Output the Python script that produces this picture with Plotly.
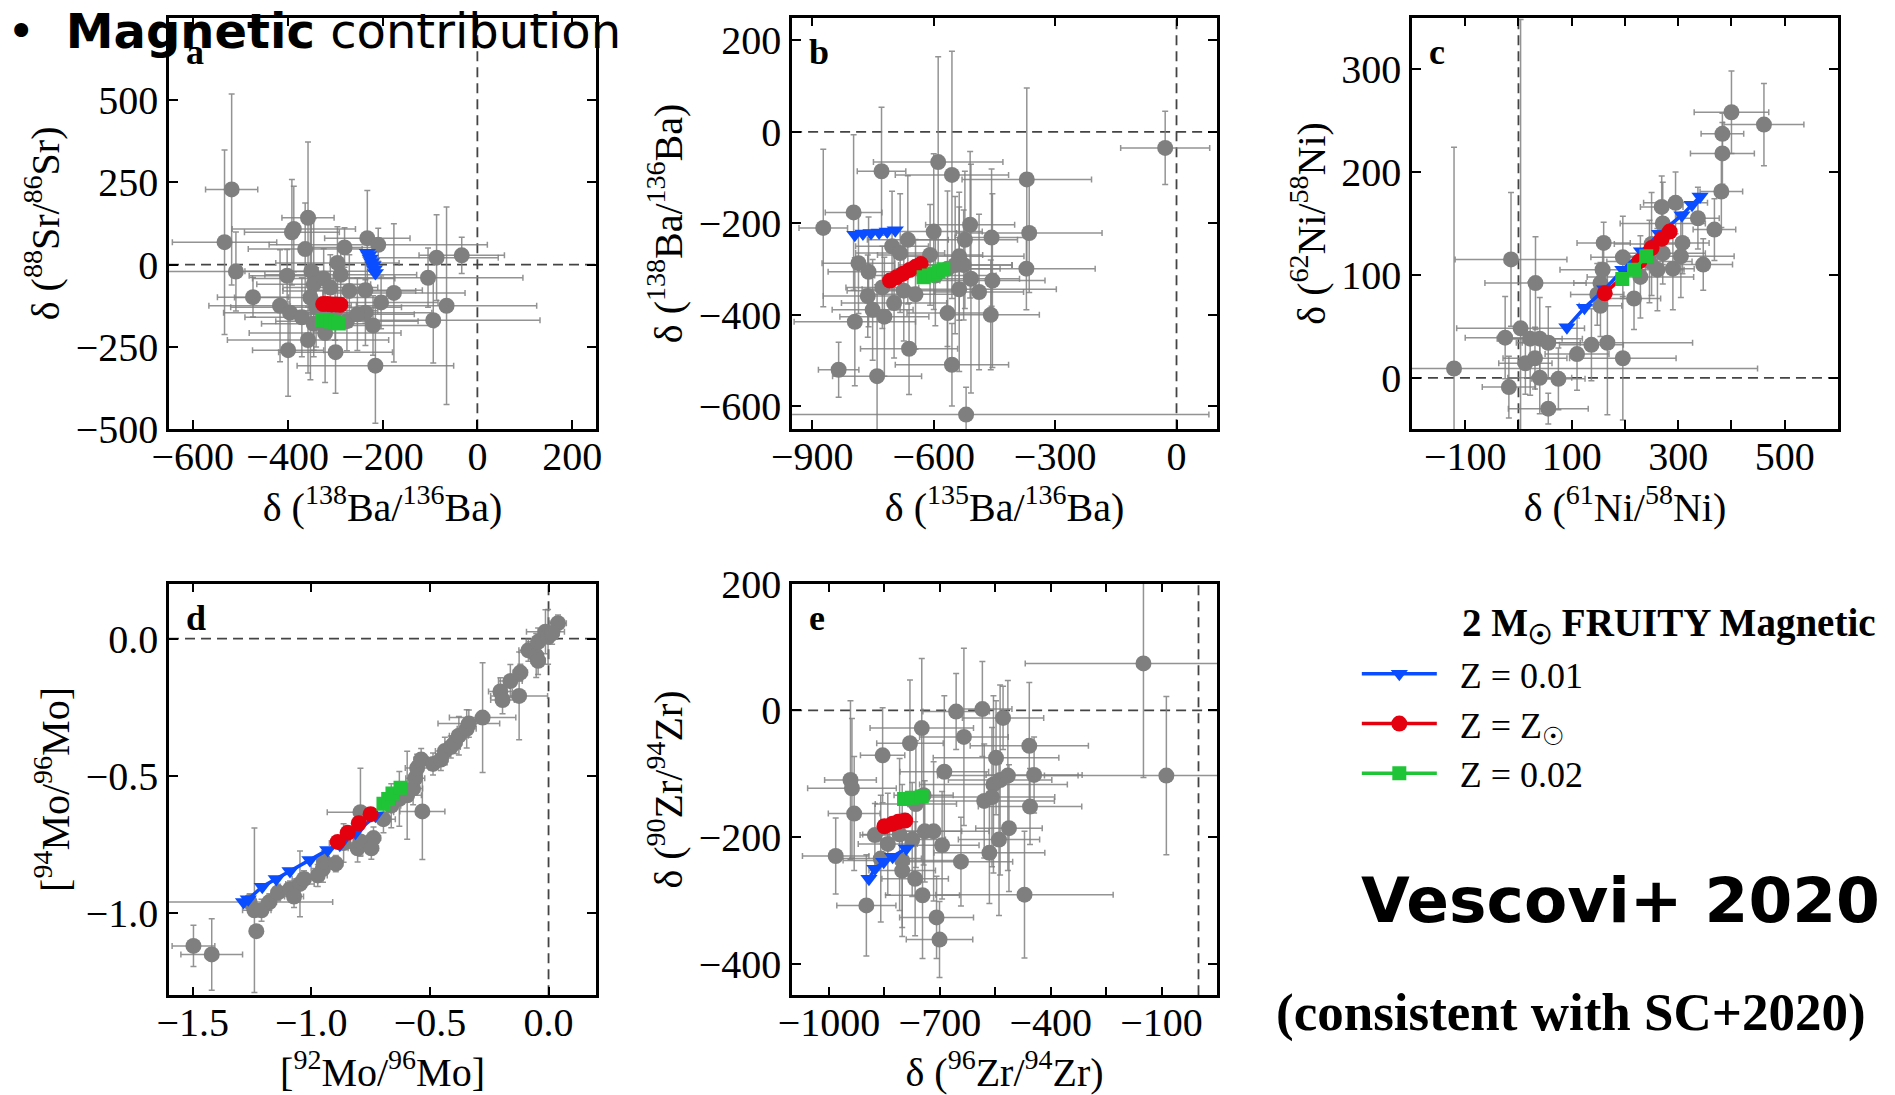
import plotly.graph_objects as go

# ---------------- data: panel a  (138Ba/136Ba vs 88Sr/86Sr) ----------------
a_x = [-518, -533, -509, -473, -401, -399, -391, -387, -357, -363, -357, -350, -345, -352, -340,
       -324, -321, -299, -295, -280, -288, -270, -275, -236, -232, -209, -220, -215, -203, -176,
       -236, -104, -93, -86, -65, -33, -416, -395, -370, -345, -253, -310, -300]
a_y = [228, 68, -21, -99, -34, -260, 98, 108, 142, 47, -229, -20, -60, -100, -130,
       -42, -208, -266, 5, 52, -31, -80, -172, -78, 80, 60, -185, -307, -115, -86,
       -146, -40, -169, 21, -125, 28, -125, -146, -160, -180, -151, -70, -140]
a_ex = [55, 110, 150, 75, 80, 75, 100, 130, 55, 120, 170, 140, 120, 160, 180,
        150, 160, 120, 130, 80, 160, 140, 150, 120, 90, 230, 130, 165, 120, 150,
        140, 200, 225, 130, 190, 90, 150, 140, 120, 110, 120, 100, 90]
a_ey = [290, 280, 120, 60, 80, 140, 160, 130, 230, 140, 100, 170, 200, 250, 120,
        90, 150, 125, 110, 60, 90, 110, 90, 100, 145, 50, 90, 175, 80, 210,
        100, 90, 130, 130, 300, 55, 170, 110, 120, 100, 110, 100, 90]
a_blue_x = [-232, -229, -226, -223, -220, -217, -215]
a_blue_y = [36, 28, 18, 8, -2, -14, -26]
a_red_x = [-325, -316, -307, -298, -289]
a_red_y = [-120, -120, -121, -121, -122]
a_green_x = [-327, -318, -309, -300, -292]
a_green_y = [-168, -170, -173, -176, -179]

# ---------------- data: panel b  (135Ba/136Ba vs 138Ba/136Ba) ----------------
b_x = [-28, -873, -798, -729, -589, -555, -370, -364, -371, -510, -523, -600, -664, -703, -683,
       -609, -537, -457, -455, -488, -459, -566, -537, -508, -795, -835, -740, -661, -555, -520,
       -786, -761, -763, -751, -722, -698, -674, -645, -596, -566, -547, -526, -727]
b_y = [-35, -210, -176, -86, -66, -94, -104, -221, -299, -203, -236, -218, -236, -250, -265,
       -269, -272, -231, -325, -350, -400, -396, -344, -321, -415, -520, -534, -474, -509, -618,
       -287, -306, -359, -389, -404, -374, -347, -355, -314, -299, -291, -291, -340]
b_ex = [110, 60, 70, 60, 160, 140, 160, 180, 170, 110, 130, 120, 100, 90, 110,
        130, 160, 90, 130, 110, 120, 100, 240, 120, 150, 50, 110, 120, 140, 600,
        90, 100, 110, 100, 110, 130, 140, 110, 150, 130, 140, 120, 90]
b_ey = [80, 172, 170, 140, 230, 270, 200, 130, 90, 160, 150, 170, 140, 120, 130,
        110, 140, 150, 190, 170, 120, 110, 180, 250, 140, 60, 200, 100, 90, 60,
        110, 120, 90, 110, 130, 120, 110, 120, 110, 170, 150, 120, 90]
b_blue_x = [-795, -775, -755, -735, -715, -695]
b_blue_y = [-225, -222, -221, -220, -218, -215]
b_red_x = [-708, -692, -676, -660, -645, -632]
b_red_y = [-325, -318, -310, -302, -295, -289]
b_green_x = [-625, -612, -600, -588, -576]
b_green_y = [-318, -314, -310, -305, -300]

# ---------------- data: panel c  (61Ni/58Ni vs 62Ni/58Ni) ----------------
c_x = [-121, -14, 32, 4, -25, 22, 40, 56, 13, 31, 40, 75, -18, 56, 110,
       137, 167, 196, 154, 148, 154, 158, 160, 196, 217, 229, 246, 261, 269, 295,
       290, 305, 308, 271, 337, 347, 368, 381, 383, 383, 400, 461, 271, 250]
c_y = [9, 115, 92, 48, 39, 38, 38, 34, 14, 19, 0, -1, -9, -30, 23,
       32, 34, 19, 70, 81, 92, 105, 131, 117, 77, 98, 113, 105, 166, 170,
       106, 118, 131, 121, 155, 110, 144, 181, 218, 237, 258, 246, 150, 130]
c_ex = [570, 105, 95, 120, 75, 60, 80, 60, 50, 60, 60, 50, 50, 75, 60,
        60, 160, 100, 40, 50, 50, 80, 50, 60, 50, 100, 80, 50, 40, 60,
        40, 100, 50, 80, 40, 55, 40, 40, 60, 40, 70, 75, 80, 70]
c_ey = [215, 65, 45, 300, 40, 55, 40, 35, 30, 30, 35, 30, 30, 15, 35,
        35, 70, 60, 30, 30, 20, 30, 20, 40, 30, 40, 40, 40, 30, 30,
        40, 40, 30, 30, 30, 25, 30, 35, 30, 20, 40, 40, 40, 50]
c_blue_x = [91, 124, 162, 196, 231, 265, 307, 326, 341]
c_blue_y = [49, 68, 86, 105, 123, 140, 158, 168, 176]
c_red_x = [162, 227, 250, 269, 284]
c_red_y = [82, 113, 126, 135, 142]
c_green_x = [195, 217, 240]
c_green_y = [96, 105, 118]

# ---------------- data: panel d  ([92Mo/96Mo] vs [94Mo/96Mo]) ----------------
d_x = [-1.497, -1.420, -1.232, -1.24, -1.26, -1.21, -1.177, -1.14, -1.09, -1.048, -1.073, -1.031, -0.973,
       -0.951, -0.947, -0.897, -0.864, -0.805, -0.793, -0.747, -0.738, -0.793, -0.696, -0.663, -0.629,
       -0.596, -0.532, -0.571, -0.562, -0.554, -0.537, -0.487, -0.454, -0.437, -0.412, -0.395, -0.378,
       -0.345, -0.336, -0.278, -0.203, -0.194, -0.161, -0.119, -0.124, -0.085, -0.052, -0.044, -0.013,
       -0.002, 0.040, -0.044, 0.015]
d_y = [-1.120, -1.151, -1.066, -0.99, -0.96, -0.99, -0.96, -0.925, -0.913, -0.894, -0.94, -0.876, -0.863,
       -0.838, -0.813, -0.82, -0.745, -0.764, -0.739, -0.764, -0.727, -0.633, -0.658, -0.609, -0.584,
       -0.571, -0.630, -0.546, -0.509, -0.472, -0.441, -0.457, -0.441, -0.41, -0.395, -0.379, -0.354,
       -0.329, -0.31, -0.288, -0.193, -0.224, -0.155, -0.124, -0.209, -0.043, -0.062, -0.012, 0.025,
       0.006, 0.056, -0.081, 0.019]
d_ex = [0.09, 0.13, 0.02, 0.05, 0.35, 0.04, 0.03, 0.03, 0.04, 0.06, 0.04, 0.05, 0.04,
        0.05, 0.03, 0.03, 0.06, 0.04, 0.03, 0.03, 0.03, 0.14, 0.05, 0.04, 0.05,
        0.06, 0.095, 0.04, 0.04, 0.05, 0.03, 0.04, 0.03, 0.04, 0.04, 0.03, 0.04,
        0.04, 0.13, 0.14, 0.05, 0.05, 0.05, 0.03, 0.12, 0.04, 0.03, 0.05, 0.08,
        0.04, 0.035, 0.03, 0.03]
d_ey = [0.075, 0.13, 0.02, 0.3, 0.03, 0.04, 0.03, 0.03, 0.03, 0.12, 0.04, 0.03, 0.04,
        0.05, 0.04, 0.03, 0.07, 0.05, 0.05, 0.04, 0.04, 0.16, 0.05, 0.08, 0.1,
        0.16, 0.175, 0.06, 0.06, 0.05, 0.04, 0.04, 0.04, 0.05, 0.04, 0.04, 0.07,
        0.07, 0.05, 0.2, 0.05, 0.05, 0.06, 0.03, 0.16, 0.04, 0.08, 0.05, 0.08,
        0.1, 0.03, 0.05, 0.04]
d_blue_x = [-1.286, -1.266, -1.207, -1.148, -1.090, -1.006, -0.931, -0.880, -0.814, -0.730]
d_blue_y = [-0.960, -0.950, -0.904, -0.876, -0.847, -0.807, -0.770, -0.751, -0.708, -0.646]
d_red_x = [-0.889, -0.847, -0.800, -0.750]
d_red_y = [-0.741, -0.708, -0.673, -0.640]
d_green_x = [-0.696, -0.676, -0.658, -0.624]
d_green_y = [-0.602, -0.585, -0.565, -0.544]

# ---------------- data: panel e  (96Zr/94Zr vs 90Zr/94Zr) ----------------
e_x = [-149, -87, -656, -585, -529, -749, -635, -781, -855, -458, -548, -688, -942, -938, -555,
       -537, -516, -445, -580, -559, -456, -765, -744, -932, -513, -741, -717, -876, -841, -809,
       -775, -694, -540, -982, -860, -802, -566, -643, -802, -767, -747, -471, -899, -709, -701]
e_y = [74, -103, -2, 2, -12, -28, -42, -52, -71, -56, -75, -97, -110, -123, -117,
       -110, -103, -102, -143, -137, -152, -148, -134, -163, -186, -191, -191, -197, -211, -196,
       -204, -213, -204, -230, -234, -237, -225, -239, -253, -266, -292, -291, -308, -327, -362]
e_ex = [320, 330, 90, 80, 110, 140, 120, 90, 60, 160, 170, 120, 70, 120, 200,
        140, 190, 130, 190, 170, 140, 110, 80, 70, 90, 100, 150, 40, 80, 100,
        90, 100, 110, 90, 110, 160, 150, 140, 90, 90, 100, 240, 80, 100, 90]
e_ey = [180, 125, 60, 75, 50, 110, 140, 100, 75, 100, 90, 120, 125, 110, 140,
        150, 150, 60, 90, 110, 60, 100, 110, 90, 100, 80, 110, 50, 80, 120,
        90, 85, 120, 60, 100, 120, 80, 70, 90, 90, 100, 100, 80, 65, 60]
e_blue_x = [-892, -876, -852, -828, -791]
e_blue_y = [-266, -250, -239, -231, -218]
e_red_x = [-850, -828, -813, -794]
e_red_y = [-183, -179, -176, -174]
e_green_x = [-797, -776, -749]
e_green_y = [-140, -138, -136]

# ---------------- labels ----------------
panel_letters = ["a", "b", "c", "d", "e"]
x_titles = ["δ (<sup>138</sup>Ba/<sup>136</sup>Ba)", "δ (<sup>135</sup>Ba/<sup>136</sup>Ba)",
            "δ (<sup>61</sup>Ni/<sup>58</sup>Ni)", "[<sup>92</sup>Mo/<sup>96</sup>Mo]",
            "δ (<sup>96</sup>Zr/<sup>94</sup>Zr)"]
y_titles = ["δ (<sup>88</sup>Sr/<sup>86</sup>Sr)", "δ (<sup>138</sup>Ba/<sup>136</sup>Ba)",
            "δ (<sup>62</sup>Ni/<sup>58</sup>Ni)", "[<sup>94</sup>Mo/<sup>96</sup>Mo]",
            "δ (<sup>90</sup>Zr/<sup>94</sup>Zr)"]
series_names = ["  Z = 0.01", "  Z = Z<sub>☉</sub>", "  Z = 0.02"]

GRAY = "#7f7f7f"
ERR = "rgba(128,128,128,0.85)"
BLUE = "#0a4cff"
RED = "#e4000f"
GREEN = "#1fc437"
FONT = "Liberation Serif"

panels = [
    (a_x, a_y, a_ex, a_ey, a_blue_x, a_blue_y, a_red_x, a_red_y, a_green_x, a_green_y),
    (b_x, b_y, b_ex, b_ey, b_blue_x, b_blue_y, b_red_x, b_red_y, b_green_x, b_green_y),
    (c_x, c_y, c_ex, c_ey, c_blue_x, c_blue_y, c_red_x, c_red_y, c_green_x, c_green_y),
    (d_x, d_y, d_ex, d_ey, d_blue_x, d_blue_y, d_red_x, d_red_y, d_green_x, d_green_y),
    (e_x, e_y, e_ex, e_ey, e_blue_x, e_blue_y, e_red_x, e_red_y, e_green_x, e_green_y),
]

fig = go.Figure()
for i, p in enumerate(panels):
    xa = "x" if i == 0 else f"x{i+1}"
    ya = "y" if i == 0 else f"y{i+1}"
    x, y, ex, ey, bx, by, rx, ry, gx, gy = p
    fig.add_trace(go.Scatter(
        x=x, y=y, mode="markers", xaxis=xa, yaxis=ya, showlegend=False,
        marker=dict(color=GRAY, size=16, line=dict(width=0)),
        error_x=dict(type="data", array=ex, color=ERR, thickness=1.5, width=3),
        error_y=dict(type="data", array=ey, color=ERR, thickness=1.5, width=3)))
    for sx, sy, col, sym, nm, sz in [(bx, by, BLUE, "triangle-down", series_names[0], 15),
                                      (rx, ry, RED, "circle", series_names[1], 16),
                                      (gx, gy, GREEN, "square", series_names[2], 14)]:
        fig.add_trace(go.Scatter(
            x=sx, y=sy, mode="lines+markers", xaxis=xa, yaxis=ya, name=nm,
            showlegend=(i == 0), legendgroup=nm,
            line=dict(color=col, width=3.5),
            marker=dict(color=col, symbol=sym, size=sz, line=dict(width=0))))

# axis layout
dom_x = [[0.0892, 0.3145], [0.4180, 0.6422], [0.7451, 0.9699], [0.0892, 0.3145], [0.4180, 0.6422]]
dom_y = [[0.608, 0.984], [0.608, 0.984], [0.608, 0.984], [0.091, 0.467], [0.091, 0.467]]
x_ranges = [[-650, 250], [-950, 100], [-200, 600], [-1.6, 0.2], [-1100, 50]]
y_ranges = [[-500, 750], [-650, 250], [-50, 350], [-1.3, 0.2], [-450, 200]]
x_ticks = [[-600, -400, -200, 0, 200], [-900, -600, -300, 0], [-100, 100, 300, 500],
           [-1.5, -1.0, -0.5, 0.0], [-1000, -700, -400, -100]]
y_ticks = [[-500, -250, 0, 250, 500, 750], [-600, -400, -200, 0, 200], [0, 100, 200, 300],
           [-1.0, -0.5, 0.0], [-400, -200, 0, 200]]
x_minor = [None, None, 100, None, 150]
x_fmt = ["", "", "", ".1f", ""]
y_fmt = ["", "", "", ".1f", ""]

common = dict(showline=True, linecolor="black", linewidth=2.5, mirror="allticks",
              ticks="inside", ticklen=9, tickwidth=1.6, tickcolor="black",
              showgrid=False, zeroline=False, automargin=False,
              tickfont=dict(family=FONT, size=40, color="black"))
for i in range(5):
    kx = "xaxis" if i == 0 else f"xaxis{i+1}"
    ky = "yaxis" if i == 0 else f"yaxis{i+1}"
    ya = "y" if i == 0 else f"y{i+1}"
    xa = "x" if i == 0 else f"x{i+1}"
    xd = dict(common, domain=dom_x[i], range=x_ranges[i], tickmode="array", tickvals=x_ticks[i],
              anchor=ya, tickformat=x_fmt[i], ticklabelstandoff=-10,
              title=dict(text=x_titles[i], font=dict(family=FONT, size=40, color="black"), standoff=6))
    if x_minor[i]:
        xd["minor"] = dict(ticks="inside", dtick=x_minor[i], tick0=x_ticks[i][0], ticklen=9,
                           tickwidth=1.6, tickcolor="black")
    yd = dict(common, domain=dom_y[i], range=y_ranges[i], tickmode="array", tickvals=y_ticks[i],
              anchor=xa, tickformat=y_fmt[i],
              title=dict(text=y_titles[i], font=dict(family=FONT, size=40, color="black"), standoff=4))
    fig.layout[kx] = xd
    fig.layout[ky] = yd
    # dashed reference lines at zero
    fig.add_shape(type="line", xref=xa, yref=f"{ya} domain", x0=0, x1=0, y0=0, y1=1,
                  line=dict(color="#444444", width=1.8, dash="10px,6px"), layer="below")
    fig.add_shape(type="line", xref=f"{xa} domain", yref=ya, x0=0, x1=1, y0=0, y1=0,
                  line=dict(color="#444444", width=1.8, dash="10px,6px"), layer="below")
    fig.add_annotation(text=f"<b>{panel_letters[i]}</b>", xref=f"{xa} domain", yref=f"{ya} domain",
                       x=0.035, y=0.97, xanchor="left", yanchor="top", showarrow=False,
                       font=dict(family=FONT, size=36, color="black"))

# header and side texts
fig.add_annotation(text="•  <b>Magnetic</b> contribution", xref="paper", yref="paper",
                   x=0.0025, y=0.972, xanchor="left", yanchor="middle", showarrow=False,
                   font=dict(family="DejaVu Sans", size=48, color="black"))
fig.add_annotation(text="<b>2 M<sub>☉</sub> FRUITY Magnetic</b>", xref="paper", yref="paper",
                   x=0.7705, y=0.429, xanchor="left", yanchor="middle", showarrow=False,
                   font=dict(family=FONT, size=39, color="black"))
fig.add_annotation(text="<b>Vescovi+ 2020</b>", xref="paper", yref="paper",
                   x=0.8554, y=0.178, xanchor="center", yanchor="middle", showarrow=False,
                   font=dict(family="DejaVu Sans", size=63, color="black"))
fig.add_annotation(text="<b>(consistent with SC+2020)</b>", xref="paper", yref="paper",
                   x=0.829, y=0.075, xanchor="center", yanchor="middle", showarrow=False,
                   font=dict(family=FONT, size=53, color="black"))

fig.update_layout(
    width=1895, height=1095, margin=dict(l=0, r=0, t=0, b=0),
    paper_bgcolor="white", plot_bgcolor="white",
    font=dict(family=FONT, color="black"),
    legend=dict(x=0.716, y=0.412, xanchor="left", yanchor="top", itemwidth=75,
                font=dict(family=FONT, size=36, color="black"), bgcolor="rgba(0,0,0,0)",
                tracegroupgap=0),
)
fig.write_html("out.html")
